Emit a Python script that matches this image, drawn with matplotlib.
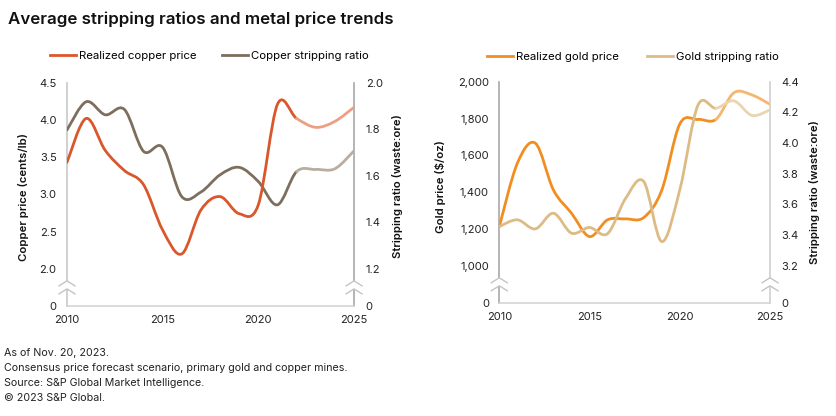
import numpy as np
import matplotlib.pyplot as plt
import matplotlib.transforms as mtransforms
from matplotlib.path import Path
from matplotlib.patches import PathPatch
from matplotlib.lines import Line2D

plt.rcParams['font.family'] = ['Inter', 'DejaVu Sans']

# yearly values (2022 onwards is the forecast part)
years = list(range(2010, 2026))
copper_price = [3.43, 4.02, 3.59, 3.32, 3.13, 2.52, 2.20, 2.79, 2.97, 2.74, 2.86,
                4.21, 4.02, 3.90, 3.98, 4.17]
copper_ratio = [1.797, 1.918, 1.862, 1.885, 1.705, 1.722, 1.51, 1.53, 1.604, 1.636,
                1.575, 1.475, 1.618, 1.627, 1.63, 1.707]
gold_price = [1213, 1557, 1666, 1412, 1286, 1159, 1250, 1255, 1262, 1410, 1770,
              1795, 1795, 1940, 1928, 1877]
gold_ratio = [3.456, 3.50, 3.441, 3.543, 3.413, 3.45, 3.41, 3.64, 3.75, 3.358, 3.695,
              4.245, 4.227, 4.275, 4.18, 4.216]
forecast_start = 2022

copper_price_ticks = [0, 2.0, 2.5, 3.0, 3.5, 4.0, 4.5]
copper_price_labels = ['0', '2.0', '2.5', '3.0', '3.5', '4.0', '4.5']
copper_ratio_ticks = [0, 1.2, 1.4, 1.6, 1.8, 2.0]
copper_ratio_labels = ['0', '1.2', '1.4', '1.6', '1.8', '2.0']
gold_price_ticks = [0, 1000, 1200, 1400, 1600, 1800, 2000]
gold_price_labels = ['0', '1,000', '1,200', '1,400', '1,600', '1,800', '2,000']
gold_ratio_ticks = [0, 3.2, 3.4, 3.6, 3.8, 4.0, 4.2, 4.4]
gold_ratio_labels = ['0', '3.2', '3.4', '3.6', '3.8', '4.0', '4.2', '4.4']
year_ticks = [2010, 2015, 2020, 2025]

GAP = 0.2  # share of the axis height used by the 0..break part


def break_scale(lo, hi):
    def fwd(v):
        v = np.asarray(v, float)
        return np.where(v < lo, v / lo * GAP, GAP + (v - lo) / (hi - lo))

    def inv(t):
        t = np.asarray(t, float)
        return np.where(t < GAP, t / GAP * lo, lo + (t - GAP) * (hi - lo))
    return fwd, inv


def smooth_line(ax, x, y, color, color_fc, z=3):
    # Catmull-Rom through the points, drawn as cubic bezier pieces
    px = [x[0]] + list(x) + [x[-1]]
    py = [y[0]] + list(y) + [y[-1]]
    segs = []
    for i in range(len(x) - 1):
        p0, p1, p2, p3 = [(px[j], py[j]) for j in range(i, i + 4)]
        c1 = (p1[0] + (p2[0] - p0[0]) / 6, p1[1] + (p2[1] - p0[1]) / 6)
        c2 = (p2[0] - (p3[0] - p1[0]) / 6, p2[1] - (p3[1] - p1[1]) / 6)
        segs.append((p1, c1, c2, p2))
    k = list(x).index(forecast_start)
    for part, col in ((segs[:k], color), (segs[k:], color_fc)):
        verts = [part[0][0]]
        codes = [Path.MOVETO]
        for s in part:
            verts += [s[1], s[2], s[3]]
            codes += [Path.CURVE4] * 3
        ax.add_patch(PathPatch(Path(verts, codes), fill=False, edgecolor=col, lw=2,
                               capstyle='round', joinstyle='round', zorder=z))


def axis_break(fig, ax, xa, ya):
    tr = mtransforms.Affine2D().scale(fig.dpi / 100.) + \
        mtransforms.ScaledTranslation(xa, ya, ax.transAxes)
    ax.plot([0, 0], [-1.5, 6.5], color='white', lw=3, transform=tr,
            clip_on=False, zorder=10, solid_capstyle='butt')
    for dy in (0, -8):
        ax.plot([-8, 0, 8], [1.5 + dy, 6.5 + dy, 1.5 + dy], color='#c4c4c4', lw=1,
                transform=tr, clip_on=False, zorder=11)


def panel(fig, rect, price, ratio, p_brk, p_top, r_brk, r_top,
          p_ticks, p_labels, r_ticks, r_labels, p_cols, r_cols,
          p_name, r_name, left_col, right_col, price_on_top, lab_pos):
    ax = fig.add_axes(rect)
    ax2 = ax.twinx()
    ax.set_yscale('function', functions=break_scale(p_brk, p_top))
    ax2.set_yscale('function', functions=break_scale(r_brk, r_top))

    smooth_line(ax, years, price, *p_cols)
    smooth_line(ax2, years, ratio, *r_cols)
    if price_on_top:
        ax.set_zorder(ax2.get_zorder() + 1)
        ax.patch.set_visible(False)

    ax.set_xlim(2010, 2025)
    ax.set_ylim(0, p_top)
    ax2.set_ylim(0, r_top)
    ax.set_xticks(year_ticks)
    ax.set_yticks(p_ticks)
    ax.set_yticklabels(p_labels)
    ax2.set_yticks(r_ticks)
    ax2.set_yticklabels(r_labels)

    for a in (ax, ax2):
        a.tick_params(length=0, labelsize=8, colors='#222222')
        for s in a.spines.values():
            s.set_visible(False)
    ax.tick_params(axis='y', pad=7.5)
    ax.tick_params(axis='x', pad=6.5)
    ax2.tick_params(axis='y', pad=8.5)
    ax2.spines['left'].set_visible(True)
    ax2.spines['left'].set_color(left_col)
    ax2.spines['right'].set_visible(True)
    ax2.spines['right'].set_color(right_col)
    ax2.spines['bottom'].set_visible(True)
    ax2.spines['bottom'].set_color('#d4d4d4')
    for s in ('left', 'right', 'bottom'):
        ax2.spines[s].set_linewidth(1.2)
        ax2.spines[s].set_zorder(1)

    yb = (GAP / 2) / (1 + GAP)
    axis_break(fig, ax2, 0, yb)
    axis_break(fig, ax2, 1, yb)

    ax2.text(lab_pos[0], lab_pos[1], p_name, transform=ax.transAxes, rotation=90,
             ha='center', va='center', fontsize=8.2, weight='semibold', color='#111111')
    ax2.text(lab_pos[2], lab_pos[3], r_name, transform=ax.transAxes, rotation=90,
             ha='center', va='center', fontsize=8.2, weight='semibold', color='#111111')
    return ax, ax2


W, H = 836, 416
fig = plt.figure(figsize=(W / 100, H / 100), dpi=100)

cu_cols = ('#D9572B', '#EC9F82')
cu_r_cols = ('#7D6E5D', '#B8ADA1')
au_cols = ('#F18E22', '#F5B66E')
au_r_cols = ('#DDBB85', '#EBD5B0')

panel(fig, [67 / W, 1 - 306 / H, 287 / W, 223.3 / H], copper_price, copper_ratio,
      2.0, 4.5, 1.2, 2.0, copper_price_ticks, copper_price_labels,
      copper_ratio_ticks, copper_ratio_labels, cu_cols, cu_r_cols,
      'Copper price (cents/lb)', 'Stripping ratio (waste:ore)',
      '#c8c8c8', '#a8a8a8', True, (-0.153, 0.49, 1.153, 0.535))

panel(fig, [499.3 / W, 1 - 302.7 / H, 270.7 / W, 221 / H], gold_price, gold_ratio,
      1000, 2000, 3.2, 4.4, gold_price_ticks, gold_price_labels,
      gold_ratio_ticks, gold_ratio_labels, au_cols, au_r_cols,
      'Gold price ($/oz)', 'Stripping ratio (waste:ore)',
      '#a8a8a8', '#d0d0d0', False, (-0.2165, 0.525, 1.166, 0.4986))

leg_kw = dict(loc='center left', ncol=2, frameon=False, fontsize=8.2, handlelength=2.3,
              handletextpad=0.25, borderpad=0, borderaxespad=0,
              bbox_transform=fig.transFigure)
fig.legend([Line2D([], [], color=cu_cols[0], lw=2), Line2D([], [], color=cu_r_cols[0], lw=2)],
           ['Realized copper price', 'Copper stripping ratio'],
           bbox_to_anchor=(50 / W, 1 - 55.7 / H), columnspacing=2.2, **leg_kw)
fig.legend([Line2D([], [], color=au_cols[0], lw=2), Line2D([], [], color=au_r_cols[0], lw=2)],
           ['Realized gold price', 'Gold stripping ratio'],
           bbox_to_anchor=(486.7 / W, 1 - 57 / H), columnspacing=2.5, **leg_kw)

fig.text(8 / W, 1 - 19 / H, 'Average stripping ratios and metal price trends',
         fontsize=12.2, weight='semibold', va='center', color='#111111')

notes = ['As of Nov. 20, 2023.',
         'Consensus price forecast scenario, primary gold and copper mines.',
         'Source: S&P Global Market Intelligence.',
         '\u00a9 2023 S&P Global.']
for i, t in enumerate(notes):
    fig.text(4 / W, 1 - (352.7 + 15.2 * i) / H, t, fontsize=7.7, va='center',
             color='#222222')

fig.savefig('out.png', dpi=100)
